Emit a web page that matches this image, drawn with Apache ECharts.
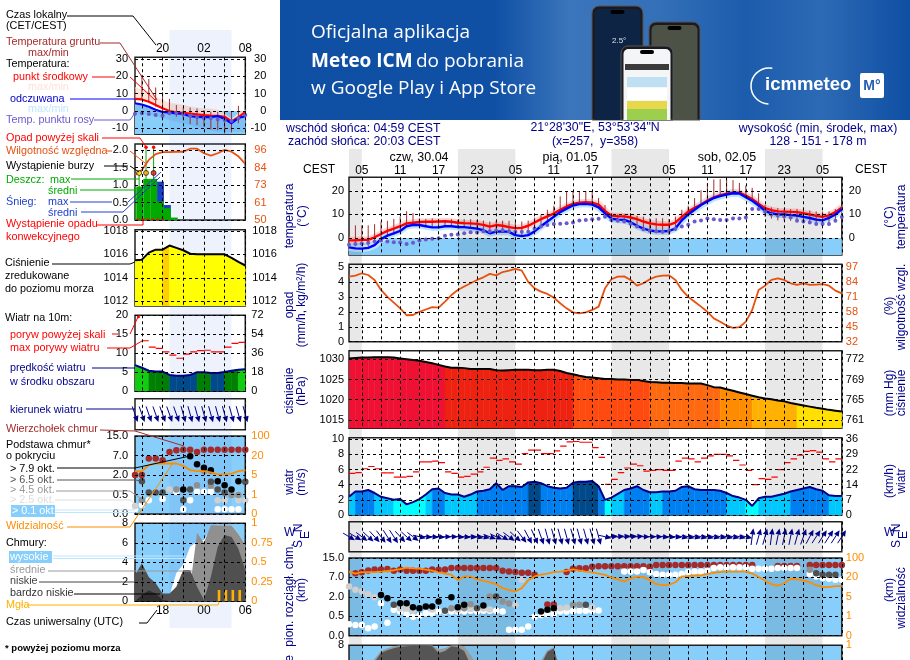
<!DOCTYPE html>
<html>
<head>
<meta charset="utf-8">
<title>Meteogram</title>
<script src="https://cdn.jsdelivr.net/npm/echarts@6/dist/echarts.min.js"></script>
<style>html,body{margin:0;padding:0;background:#fff}#main{width:910px;height:660px}</style>
</head>
<body>
<div id="main"></div>
<script>
// ---- main forecast: hourly values, t = hours since 30.04 00:00 local (t 3..80)
var hours = [];
for (var h = 3; h <= 80; h++) hours.push(h);

var tempMid = [-1,-1,-0.8,-0.8,0.3,1.7,3,4,5,6.2,
  6.5,6.8,6.9,6.9,7,7.1,6.9,6.5,6.3,6.2,
  6,5.6,4.8,5.5,5.2,4.6,4.2,4.3,5.2,6.6,
  8,9.2,10.4,12,13.4,14.5,15,15.2,15,14.2,
  11.5,9.5,9.2,9.2,8.7,8,7,6.2,5.8,5.6,
  5.6,6.5,9,11.2,12.8,14.2,15.9,17.3,18.2,18.8,
  19.4,19.3,18,16.6,14.6,12.7,11.8,11.3,11.2,11.1,
  11,10.5,10,9.4,9,9.6,11,13];
var tempFeels = [-4,-4.4,-4.5,-4.2,-3,-0.5,1,2,3,5,
  5.6,5.5,5,4.5,4.5,5,5,4.7,4.6,4.3,
  4,3.3,2,2.7,2.8,2.6,1.2,0.8,1.2,2.8,
  5,7,9,11,12.5,13.8,14.4,14.5,14.2,13,
  10.5,8.2,7.8,7.7,6.7,5.2,4,3.2,2.8,2.8,
  3,4,7.5,10,12,14,15.5,17,17.8,18.5,
  19,18.9,17.3,15.8,13.8,11.5,10.5,10,10,9.7,
  9.5,9,8.5,7.8,7.5,8.5,10,12.3];
var dewPoint = [-2.9,-2.6,-2.3,-2,-1.5,-1.1,-1.5,-1.8,-1.9,-2.6,
  -2,-1.1,-0.6,-0.3,-0.1,1,1.4,1.5,2,2.4,
  2.3,2.9,2.9,3.1,3.3,2.9,2.7,2.7,2.7,4,
  4.9,5.5,6,6.1,6.3,6.6,7.4,7.7,8,8.2,
  9,7.7,7.3,7,6.1,4.9,3.7,3.1,2.9,2.7,
  3,3.9,4.9,5.6,7,7.4,8.3,8,7.7,7.7,
  8.3,8.3,8.7,12.3,12.3,11.3,10,9.6,9.1,8.7,
  7.3,7,6.6,6,6,6,7.3,8.9];
var groundMax = [4.1,5.4,5.3,5.4,5.9,7,7.3,8.1,9.1,11.4,
  10.6,8.4,8.1,8.4,8.1,7.7,8,7.7,8,8,
  7.7,7.4,7,7.3,7.4,7.3,7,7,7.4,8.7,
  10,12,13.7,17.7,19.9,20,20,20,19.5,17,
  14,10,10.1,10.1,9.9,9.4,9.1,8.4,8.4,8.4,
  8.1,9.1,12,13.7,17,20.3,23.4,24.9,25,25,
  24.6,23.4,22.3,21.3,19,14,13,12.7,12.4,12.3,
  12.3,12,11.7,11.3,11.3,11.3,12.3,13];
var groundMin = [-3.5,-3.5,-3.5,-3.5,-2.5,-1,0.5,1.5,2.8,4.5,
  5,5,4.8,4.5,4.4,4.8,4.8,4.5,4.4,4.2,
  3.8,3,1.8,2.4,2.5,2.4,1,0.5,1,2.6,
  4.7,6.8,8.8,10.8,12.2,13.6,14.2,14.2,14,12.7,
  10.2,7.8,7.5,7.2,6,5,3.5,2.5,2,1.8,
  1.3,3,7,9.7,11.7,13.6,15.2,16.7,17.6,18.2,
  18.7,18.6,17,15.5,13.4,9,8.2,7.5,7.4,7.3,
  7,6.7,6.2,5.6,5.2,6,7.6,9.5];
var humidity = [88.6,89.5,91.5,90,85.7,77,71,66,61,55,
  55.2,58,60,62,61.6,66.8,72.6,77,80,82.8,
  85.7,88,91,89.7,92.6,93.8,95.3,93.8,84,78.4,
  75.5,73.5,70.3,65.4,61,57.5,56.7,57.5,59.6,62.5,
  78.4,86.3,88.6,88.8,85.7,80.7,82.8,86.3,88.6,89.4,
  89.7,85.7,77,71,66.8,62.5,58,52.3,49.4,46,
  44,44.6,49.4,59.6,77,80.7,85.7,87,85.7,82.8,
  81.4,82.8,81.4,81.7,82,80.7,76.4,74];
var pressure = [1030.2,1030.3,1030.4,1030.4,1030.5,1030.5,1030.5,1030.4,1030.2,1030,
  1029.8,1029.6,1029.3,1029,1028.6,1028.2,1027.9,1027.9,1027.8,1027.6,
  1027.6,1027.6,1027.6,1027.3,1027.2,1027.3,1027.4,1027.4,1027.4,1027.3,
  1027.3,1027.4,1027.4,1027.1,1026.6,1026.3,1025.9,1025.6,1025.5,1025.3,
  1025.1,1025.1,1025,1025,1024.9,1024.9,1024.6,1024.4,1024.3,1024.2,
  1024.2,1024.1,1024.1,1024,1024,1024,1023.6,1023.1,1023,1022.6,
  1022.2,1021.8,1021.4,1021,1020.6,1020.3,1020.1,1019.8,1019.6,1019.2,
  1018.9,1018.6,1018.3,1018,1017.8,1017.5,1017.3,1017.1];
var windSpeed = [2.4,3.1,3.1,3.3,2.9,2.4,2.2,2,2.1,1.4,
  1.7,2.1,2.7,3.4,3.5,2.9,2.7,2.7,2.4,2.7,
  3.1,3.2,3.4,4.2,3.3,3.8,3.8,3.7,4.3,4.4,
  4.2,3.8,3.6,3.5,3.6,4.25,4.4,4.4,4.5,3.8,
  2,2.3,2.8,3.3,3.5,3.8,3.3,3,3,3.1,
  3.1,3.2,3.7,3.8,3.4,3.3,3.3,3.3,3.2,2.9,
  2.5,2.3,2,1.2,2.2,2.4,2.4,2.6,2.8,3.1,
  3.3,3.5,3.7,3.4,3.2,2.6,2.5,2.5];
var windGust = [5.5,5.6,6.1,6.4,6.1,5.55,5.55,5,5,5.1,
  5.7,7,7,7.1,6.9,5.7,5.5,5,5.1,5.4,
  5.7,6.3,7.5,7.2,7.4,7,6.7,8.1,8.55,8.55,
  8.1,8.1,8.45,9.1,9.65,9.7,9.6,9.6,8.9,7.6,
  4.05,4.7,5.6,6.2,6.7,6.5,5.8,5.9,6,5.9,
  5.9,7.1,7.5,7.4,7,7.5,7.8,8,8,7.8,
  7.2,6.6,5.9,4,4.8,4.7,5,6,6.9,7.4,
  7.9,8.4,8.5,8.3,7.4,7,7.4,7.4];
var windDir = [295,295,300,305,310,315,320,320,310,305,
  300,280,275,275,275,270,270,275,275,275,
  280,280,285,290,295,300,305,315,325,330,
  335,340,340,340,340,340,340,340,340,340,
  280,265,265,265,265,265,270,270,270,275,
  275,275,280,280,280,280,280,280,280,280,
  280,280,280,190,200,200,190,195,195,195,
  200,205,215,220,220,220,220,220];
// visibility and cloud base are on the chart's stepped scale (one step per labelled tick)
var visibility = [3.3,3.2,3.27,3.27,3.27,3.3,3.33,3.37,3.43,3.5,
  3.47,3.45,3.4,3.35,3.26,3.2,3.14,2.86,3.05,3.05,
  2.9,2.83,2.75,2.65,2.45,2.35,2.28,2.45,2.85,3.05,
  3.14,3.2,3.27,3.3,3.35,3.42,3.35,3.3,3.26,3.2,
  3.13,3,2.9,2.8,2.95,3.03,3.03,2.85,2.65,2.6,
  2.62,2.75,3.05,3.07,3.1,3.1,3.18,3.24,3.28,3.3,
  3.3,3.3,3.3,3.2,3.03,2.83,2.65,2.57,2.7,2.93,
  2.9,2.85,2.75,2.6,2.5,2.5,2.55,2.55];

var cloudTop = [[4,3.22],[5,3.26],[6,3.36],[7,3.41],[8,3.41],[9,3.43],[10,3.34],[11,3.41],[12,3.34],[13,3.34],
  [14,3.34],[15,3.34],[16,3.41],[17,3.4],[18,3.41],[19,3.48],[20,3.48],[21,3.48],[22,3.48],[23,3.48],[24,3.48],
  [25,3.48],[26,3.48],[27,3.34],[28,3.31],[29,3.28],[30,3.24],[31,3.24],[32,3.14],[34,1.6],[35,1.6],[37,3.28],[38,3.45],
  [39,3.47],[40,3.47],[41,3.55],[42,3.57],[43,3.57],[44,3.57],[45,3.57],[46,3.57],[47,3.57],[48,3.57],[49,3.57],[50,3.55],
  [51,3.64],[52,3.64],[53,3.64],[54,3.64],[55,3.64],[56,3.64],[57,3.64],[58,3.64],[59,3.64],[60,3.64],[61,3.64],[62,3.64],
  [63,3.64],[64,3.64],[65,3.64],[66,3.64],[70,3.59],[71,3.59],[72,3.59],[73,3.59],[75,3.64],[76,3.64],[77,3.64],[78,3.64],[79,3.64],[80,3.64]];
var cloudWhite = [[3,0.59],[4,0.55],[5,0.55],[6,0.38],[7,0.47],[8,1.67],[9,0.67],[10,1.33],[11,1.24],[12,1.1],[13,0.98],[14,1.03],
  [15,1.15],[16,1.15],[17,1.24],[18,1.24],[19,1.24],[20,1.24],[21,1.24],[22,1.29],[23,1.24],[24,1.29],[25,1.29],[26,1.29],[27,1.24],
  [28,0.3],[29,0.3],[30,0.3],[31,0.47],[32,0.98],[33,1.07],[34,1.1],[35,1.12],[36,1.24],[37,1.24],[38,1.27],[39,1.29],[40,1.29],[41,1.29],[42,1.3],
  [46,3.31],[47,3.31],[48,3.31],[49,3.38],[50,3.26],[51,3.17],[52,3.14],[53,3.14],[54,3.14],[55,3.17],[56,3.28],[57,3.31],[58,3.31],[59,3.34],[60,3.48],
  [61,3.52],[62,3.52],[63,3.52],[64,3.52],[65,3.52],[66,3.45],[67,3.45],[68,3.45],[69,3.45],[70,3.48],[71,3.48],[72,3.48],[73,3.48],
  [75,3.17],[76,3.05],[77,2.97],[78,2.93],[79,2.88],[80,2.88]];
var cloudLight = [[3,2.53],[4,2.36],[5,2.28],[6,2.14],[7,1.98],[11,1.4],[12,1.4],[13,1.3],[16,1.35],[20,1.33],[22,1.38],[24,1.4],[25,1.35],[29,1.59],[30,2.88],[36,1.41],[37,1.45],[41,1.45]];
var cloudGray = [[19,1.41],[21,1.41],[22,1.62],[25,2.02],[27,1.76],[28,1.66],[38,1.59],[39,1.59],[75,3.4]];
var cloudDark = [[10,1.59],[18,1.29],[23,1.41],[26,2.02],[40,1.59],[76,3.22],[77,3.14],[78,3.14],[79,3.14]];
var cloudBlack = [[8,2.1],[9,1.93],[11,1.67],[12,1.67],[13,1.47],[14,1.41],[15,1.5],[16,1.5],[17,1.76],[19,1.98],[20,1.47],[21,1.59],[24,1.55],[33,1.24],[34,1.33],[35,1.41]];
// cloud cover (okta), the panel runs off the bottom of the page
var mainCloudLow = [3,3.5,4,5,6.3,7.2,7.5,7.7,7.86,7.9,8,8,8,7.9,7.2,7.4,7.9,7.8,7.4,6,4,3,2,2,2,2,2,2,3,5,6,7.3,7.7,5];
var mainCloudMid = [4,4.5,5,6,6.6,7.4,7.7,7.9,8,8,8,8,8,8,7.6,7.7,8,8,7.9,7,6,4,3,3,3,3,3,3,4,5.5,6.4,7.5,7.8,5.5];

var nightMain = [[3,5],[20,29],[44,53],[68,77]];
var gridHoursMain = [5,8,11,14,17,20,23,26,29,32,35,38,41,44,47,50,53,56,59,62,65,68,71,74,77,80];
var labelHoursMain = [5,11,17,23,29,35,41,47,53,59,65,71,77];

// ---- small "now" panels at left (t 16..32)
var nowHours = [16,17,18,19,20,21,22,23,24,25,26,27,28,29,30,31,32];
var nowTempMid = [7,6.7,5.4,3.5,1.6,0,-0.7,-1,-1.4,-1.9,-2.3,-2.6,-2.7,-3.3,-6,-3.6,-0.4];
var nowTempFeels = [4.5,3.8,2.5,0.8,-0.5,-0.9,-1.3,-1.7,-3,-3.3,-3.5,-3.5,-2.9,-4.5,-7,-4,-3];
var nowDew = [-1.5,-1.3,-1.7,-2.3,-2.7,-1.3,-1,-1.9,-2.7,-3.6,-4.2,-4.2,-4.8,-5.2,-5.8,-4.2,-2.3];
var nowGroundMax = [13,21,18.5,13.6,11,7,3.5,2,2,1.5,0.6,-0.4,-0.4,-0.4,-0.4,3,0];
var nowGroundMin = [6,6.3,5.4,2.5,0,-2.3,-3.3,-4.6,-7.5,-8,-9,-10.6,-11,-12.9,-12.3,-7,-1];
var nowMidRangeHi = [13.6,12.5,11.1,8.3,6.3,4.8,4,3.5,2.5,1.9,1.5,1.3,0.6,-1.3,-4.8,-1.3,0.6];
var nowFeelsRangeLo = [-1,-1.5,-2,-3,-4,-5,-6,-7,-8,-9,-10,-11,-12,-12,-12,-12,-12];
var nowHumidity = [79.7,83,89.6,93.4,94.7,94.7,95,95,97,97,94,92.5,94,96.2,95,92,87];
var nowPressure = [1015.5,1015.55,1016.15,1016.4,1016.4,1016.75,1016.55,1016.35,1016.05,1016,1016,1016,1016,1016,1015.7,1015.35,1015.05];
var nowWind = [6.9,6.2,5.4,5.2,5.2,4.3,4.1,4.1,4.3,5,5,4.8,4.8,5.1,5.4,5.7,5.8];
var nowGust = [[17,13.3],[18,11.6],[19,11.3],[20,10.4],[21,9.5],[22,8.7],[23,9.8],[24,10.4],[25,10.7],[26,10.8],[27,10.4],[28,10.4],[29,11.6],[30,12.6],[31,12.9]];
var nowGustOver = [[16.5,19.6]];
var nowDir = [335,335,335,335,335,335,335,340,340,340,340,340,340,340,340,340,340];
var nowRain = [[15.2,0.96],[16.2,0.96],[17.2,1.18],[18.2,1.18],[19.2,0.53],[20.2,0.34],[21.2,0.07]];
var nowSnow = [[19.2,1.1],[20.2,0.43]];
var nowRainMax = [[16.6,1.3],[17.6,2.06],[18.7,2.06]];
var nowRainOver = [[17.6,2.09],[18.7,2.09]];
var nowStorm = [[16.6,1.35],[17.6,1.35],[18.7,1.35]];
var nowConvective = [[16.2,0.02],[20.2,0.02]];
var nowVisibility = [2.2,2.2,2.5,2.59,2.59,2.59,2.59,2.47,2.25,2.2,2.2,2.13,2.03,2.03,2.07,2.2,2.25];
var nowCloudTop = [[16,2],[17,2],[18,2.84],[19,2.84],[20,2.76],[21,3.18],[22,3.27],[23,3.3],[24,3.3],[25,3.18],[26,3.3],[27,3.3],[28,3.3],[29,3.3],[30,3.3],[31,3.3],[32,3.3]];
var nowCloudWhite = [[16,0.24],[17,0.46],[18,0.71],[20,0.77],[22,1.14],[23,0.24],[24,0.71],[25,1.14],[26,1.14],[27,1.14],[28,0.24],[29,0.24],[30,0.24],[31,0.24]];
var nowCloudLight = [[16,0.41],[19,1.14],[21,1.26],[28,0.71],[29,0.71],[31,0.71],[32,0.71]];
var nowCloudGray = [[17,0.71],[22,1.26],[25,1.48],[26,2.2],[27,1.45],[30,0.97],[31,0.97]];
var nowCloudDark = [[17,1.68],[18,1.1],[19,1.1],[20,1.1],[23,0.71],[24,1.26],[27,1.65],[28,1.26],[29,1.1],[32,1.65]];
var nowCloudBlack = [[23,1.26],[24,2.96],[25,2.55],[26,2.37],[27,2.25],[28,1.68],[29,1.48],[30,1.26],[31,1.68]];
var nowHigh = [0,0,0,0,0,0.6,2.9,3.8,5.6,6.1,6.3,7.5,7.8,7.8,7.8,6.9,5.8];
var nowMiddle = [0,0,0,0,0,0,0,0.5,1.5,7,6,7.8,7.8,7.8,7.8,6.9,5.8];
var nowLow = [2.7,3.9,2.5,1.85,0.8,0.8,1.5,3.2,3.2,1.5,0.15,2.5,5.6,6.8,6.6,5.4,3.2];
var nowVeryLow = [0,0.65,1.1,0.8,0.15,0,0,0,0,0,0,0,0,0,0,0,0];
var nowFog = [[28,0.145],[29,0.145],[30,0.145],[31,0.145]];
var nightNow = [[21,30]];
var gridHoursNow = [17,20,23,26,29,32];
var labelHoursNow = [20,26,32];

// tick labels
var stepKm = ['0.0','0.5','2.0','7.0','15.0'];
var stepVis = ['0','1','5','20','100'];

var FONT = '"Liberation Sans", Arial, sans-serif';
var DARKBLUE = '#00008b', ORANGERED = '#e8500f', ORANGE = '#ff8c00', SKY = '#87cefa';
var DASH = [3,3];
var Z_ABOVE_NIGHT = 3.5; // filled areas cover the night band, sky and dots do not

var grids = [], xAxes = [], yAxes = [], series = [];

function panel(o) {
  var g = grids.length;
  grids.push({left:o.left, top:o.top, width:o.width, height:o.height, show:true, outerBoundsMode:'none',
    borderColor:'#222', borderWidth:1.5, backgroundColor:o.bg || 'transparent'});
  xAxes.push({gridIndex:g, type:'value', min:o.xMin, max:o.xMax, z:5, position:o.xLabelPos || 'bottom',
    axisLine:{show:false},
    axisTick:{show:false, customValues:o.xGrid},
    axisLabel:o.xLabels ? {show:true, customValues:o.xLabels, margin:o.xMargin, color:'#000', fontFamily:FONT, fontSize:12,
      formatter:o.xFormat} : {show:false},
    splitLine:{show:true, lineStyle:{color:'#000', width:1, type:DASH}}});
  var yl = yAxes.length;
  yAxes.push({gridIndex:g, type:'value', min:o.yMin, max:o.yMax, z:5, position:'left',
    axisLine:{show:false},
    axisTick:{show:false, customValues:o.yGrid || o.yTicks},
    axisLabel:{show:!!o.yTicks, customValues:o.yTicks, margin:o.yMargin, color:'#000', fontFamily:FONT, fontSize:11,
      formatter:o.yFormat || function (v) { return v; }},
    splitLine:{show:true, lineStyle:{color:'#000', width:1, type:DASH}}});
  var r = o.right || {min:o.yMin, max:o.yMax};
  yAxes.push({gridIndex:g, type:'value', min:r.min, max:r.max, z:5, position:'right',
    axisLine:{show:false},
    axisTick:{show:false},
    axisLabel:{show:!!r.ticks, customValues:r.ticks, margin:r.margin, color:r.color || '#000', fontFamily:FONT, fontSize:11,
      align:r.align || 'left',
      formatter:function (v) { return r.labels[r.ticks.indexOf(v)]; }},
    splitLine:{show:false}});
  return {x:g, y:yl, r:yl + 1, yMin:o.yMin, yMax:o.yMax, xMin:o.xMin, xMax:o.xMax};
}
function pairs(xs, ys) { return xs.map(function (x, i) { return [x, ys[i]]; }); }

function addLine(p, xs, ys, color, width, opt) {
  series.push(Object.assign({type:'line', xAxisIndex:p.x, yAxisIndex:p.y, data:pairs(xs, ys), showSymbol:false,
    lineStyle:{color:color, width:width}, silent:true, z:4, clip:true}, opt || {}));
}
function addDots(p, data, color, size, z) {
  series.push({type:'scatter', xAxisIndex:p.x, yAxisIndex:p.y, data:data, symbolSize:size,
    itemStyle:{color:color, opacity:1}, silent:true, z:z || 4, clip:true});
}
function addCustom(p, data, renderItem, z, clip, axis) {
  series.push({type:'custom', xAxisIndex:p.x, yAxisIndex:axis || p.y, data:data, renderItem:renderItem,
    silent:true, z:z || 2, clip:clip !== false});
}
// filled band between two curves
function addBand(p, xs, lo, hi, color, z) {
  var d = [];
  for (var i = 0; i < xs.length - 1; i++) d.push([xs[i], lo[i], hi[i], xs[i + 1], lo[i + 1], hi[i + 1]]);
  addCustom(p, d, function (params, api) {
    var a = api.coord([api.value(0), api.value(1)]), b = api.coord([api.value(0), api.value(2)]);
    var c = api.coord([api.value(3), api.value(5)]), e = api.coord([api.value(3), api.value(4)]);
    return {type:'polygon', shape:{points:[a, b, c, e]}, style:{fill:color, stroke:color, lineWidth:0.4}};
  }, z || 2);
}
// area down to the panel floor, each hour coloured by its value class
function addStepArea(p, xs, ys, thresholds, colors, useEnd) {
  var d = [];
  for (var i = 0; i < xs.length - 1; i++) {
    var k = 0, cls = useEnd ? ys[i + 1] : ys[i];
    while (k < thresholds.length && cls < thresholds[k]) k++;
    d.push([xs[i], ys[i], xs[i + 1], ys[i + 1], k]);
  }
  addCustom(p, d, function (params, api) {
    var a = api.coord([api.value(0), api.value(1)]), b = api.coord([api.value(2), api.value(3)]);
    var f0 = api.coord([api.value(0), p.yMin]), f1 = api.coord([api.value(2), p.yMin]);
    var col = colors[api.value(4)];
    return {type:'polygon', shape:{points:[a, b, f1, f0]}, style:{fill:col, stroke:col, lineWidth:0.5}};
  }, Z_ABOVE_NIGHT);
}
function addBelowZero(p) {
  addCustom(p, [[p.xMin, 0, p.xMax, p.yMin]], function (params, api) {
    var a = api.coord([api.value(0), api.value(1)]), b = api.coord([api.value(2), api.value(3)]);
    return {type:'rect', shape:{x:a[0], y:a[1], width:b[0] - a[0], height:b[1] - a[1]}, style:{fill:SKY}};
  }, 1);
}
function addRanges(p, xs, lo, hi, color, z) {
  var d = xs.map(function (x, i) { return [x, lo[i], hi[i]]; });
  addCustom(p, d, function (params, api) {
    var a = api.coord([api.value(0), api.value(1)]), b = api.coord([api.value(0), api.value(2)]);
    return {type:'line', shape:{x1:a[0], y1:a[1], x2:b[0], y2:b[1]}, style:{stroke:color, lineWidth:1}};
  }, z || 4);
}
function addDashes(p, data, color, len, start) {
  addCustom(p, data, function (params, api) {
    var a = api.coord([api.value(0) + (start || 0), api.value(1)]), b = api.coord([api.value(0) + (start || 0) + len, api.value(1)]);
    return {type:'line', shape:{x1:a[0], y1:a[1], x2:b[0], y2:b[1]}, style:{stroke:color, lineWidth:1.2}};
  }, 4);
}
function addBars(p, data, color, width, z) {
  addCustom(p, data, function (params, api) {
    var a = api.coord([api.value(0), api.value(1)]), b = api.coord([api.value(0) + width, p.yMin]);
    return {type:'rect', shape:{x:a[0], y:a[1], width:b[0] - a[0], height:b[1] - a[1]}, style:{fill:color}};
  }, z || Z_ABOVE_NIGHT);
}
function addArrows(p, xs, dirs) {
  addCustom(p, pairs(xs, dirs), function (params, api) {
    var c = api.coord([api.value(0), 0.5]);
    var az = (api.value(1) + 180) * Math.PI / 180;
    var sx = Math.sin(az), sy = -Math.cos(az);
    var tail = [c[0] - sx * 6.5, c[1] - sy * 8.5], head = [c[0] + sx * 6.5, c[1] + sy * 8.5];
    var len = Math.sqrt((head[0] - tail[0]) * (head[0] - tail[0]) + (head[1] - tail[1]) * (head[1] - tail[1]));
    var ux = (head[0] - tail[0]) / len, uy = (head[1] - tail[1]) / len;
    var bx = head[0] - ux * 6, by = head[1] - uy * 6;
    return {type:'group', children:[
      {type:'line', shape:{x1:tail[0], y1:tail[1], x2:bx, y2:by}, style:{stroke:DARKBLUE, lineWidth:1}},
      {type:'polygon', shape:{points:[head, [bx - uy * 2.8, by + ux * 2.8], [bx + uy * 2.8, by - ux * 2.8]]}, style:{fill:DARKBLUE}}
    ]};
  }, 4, false);
}
function addNight(p, data, color) {
  addCustom(p, data, function (params, api) {
    var a = api.coord([api.value(0), 1]), b = api.coord([api.value(1), 0]);
    return {type:'rect', shape:{x:a[0], y:a[1], width:b[0] - a[0], height:b[1] - a[1]}, style:{fill:color}};
  }, 3);
}
function cloudDots(p, top, white, light, gray, dark, black, size) {
  addDots(p, top, '#a52a2a', size, 4);
  addDots(p, white, '#ffffff', size, 4);
  addDots(p, light, '#d0d0d0', size, 4);
  addDots(p, gray, '#909090', size, 4);
  addDots(p, dark, '#505050', size, 4);
  addDots(p, black, '#000000', size, 4);
}
function hourLabel(v) { var h = v % 24; return (h < 10 ? '0' : '') + h; }

// ---- main column
var M = {left:349, width:492.8, xMin:3, xMax:80, xGrid:gridHoursMain, yMargin:5};
function mainPanel(o) { return panel(Object.assign({}, M, o)); }

var nightBandMain = panel({left:349, width:492.8, top:149, height:511, xMin:3, xMax:80, xGrid:[], yMin:0, yMax:1, yGrid:[]});
grids[nightBandMain.x].borderWidth = 0;
addNight(nightBandMain, nightMain, 'rgba(0,0,0,0.09)');

var pTemp = mainPanel({top:177.3, height:77.7, yMin:-7.23, yMax:25.8, yTicks:[0,10,20],
  xLabels:labelHoursMain, xLabelPos:'top', xMargin:1, xFormat:hourLabel,
  right:{min:-7.23, max:25.8, ticks:[0,10,20], labels:['0','10','20'], margin:7}});
addBelowZero(pTemp);
addLine(pTemp, hours, tempMid, '#ffd6d6', 7, {z:2});
addLine(pTemp, hours, tempFeels, '#bfe6ff', 7, {z:2});
addRanges(pTemp, hours, groundMin, groundMax, '#a03030', 4);
addLine(pTemp, hours, tempMid, '#ff0000', 2.4);
addLine(pTemp, hours, tempFeels, '#0000ff', 2.4);
addDots(pTemp, pairs(hours, dewPoint), '#6a5acd', 4);

var pHum = mainPanel({top:264.3, height:77.4, yMin:0, yMax:5.18, yTicks:[0,1,2,3,4,5],
  right:{min:32, max:99.3, ticks:[32,45,58,71,84,97], labels:['32','45','58','71','84','97'], margin:4, color:ORANGERED}});
series.push({type:'line', xAxisIndex:pHum.x, yAxisIndex:pHum.r, data:pairs(hours, humidity), showSymbol:false,
  lineStyle:{color:ORANGERED, width:1.8}, silent:true, z:4});

var pPress = mainPanel({top:350.7, height:77.6, yMin:1012.95, yMax:1032.1, yTicks:[1015,1020,1025,1030],
  right:{min:1012.95, max:1032.1, ticks:[1015,1020,1025,1030], labels:['761','765','769','772'], margin:4}});
addStepArea(pPress, hours, pressure, [1028.6,1026.5,1024.5,1023.05,1021.05,1018.95],
  ['#ee1133','#ee2210','#ff4a10','#ff6a10','#ff8c00','#ffb000','#ffe000']);
addLine(pPress, hours, pressure, '#000', 2);

var pWind = mainPanel({top:437.7, height:77.3, yMin:0, yMax:10.2, yTicks:[0,2,4,6,8,10],
  right:{min:0, max:10.2, ticks:[0,2,4,6,8,10], labels:['0','7','14','22','29','36'], margin:4}});
addStepArea(pWind, hours, windSpeed, [4.25,3.05,2.15], ['#004a8c','#0080f0','#00c8ff','#00ffff']);
addLine(pWind, hours, windSpeed, '#00008b', 2);
addDashes(pWind, pairs(hours, windGust), '#ff0000', 1);

var pDir = mainPanel({top:521.7, height:30, yMin:0, yMax:1, yGrid:[]});
addArrows(pDir, hours, windDir);

var pBase = mainPanel({top:558, height:77.7, yMin:0, yMax:4, yTicks:[0,1,2,3,4], bg:SKY,
  yFormat:function (v) { return stepKm[v]; },
  right:{min:0, max:4, ticks:[0,1,2,3,4], labels:stepVis, margin:4, color:ORANGE}});
cloudDots(pBase, cloudTop, cloudWhite, cloudLight, cloudGray, cloudDark, cloudBlack, 6.5);
addLine(pBase, hours, visibility, ORANGE, 1.8, {z:5});

var pCloud = mainPanel({top:645.3, height:77.6, yMin:0, yMax:8, yTicks:[8], yGrid:[2,4,6], bg:SKY,
  right:{min:0, max:8, ticks:[8], labels:['1'], margin:4, color:ORANGE}});
addLine(pCloud, hours.slice(0, mainCloudMid.length), mainCloudMid, '#999', 0, {areaStyle:{color:'#999', opacity:1, origin:'start'}, z:Z_ABOVE_NIGHT});
addLine(pCloud, hours.slice(0, mainCloudLow.length), mainCloudLow, '#555', 0, {areaStyle:{color:'#555', opacity:1, origin:'start'}, z:Z_ABOVE_NIGHT});

// ---- left column
var L = {left:135, width:110.3, xMin:16, xMax:32, xGrid:gridHoursNow, yMargin:7};
function nowPanel(o) { return panel(Object.assign({}, L, o)); }

var nightBandNow = panel({left:135, width:110.3, top:30, height:598, xMin:16, xMax:32, xGrid:[], yMin:0, yMax:1, yGrid:[]});
grids[nightBandNow.x].borderWidth = 0;
addNight(nightBandNow, nightNow, 'rgba(60,110,235,0.09)');

var qTemp = nowPanel({top:57.3, height:77, yMin:-13.4, yMax:31, yTicks:[-10,0,10,20,30],
  xLabels:labelHoursNow, xLabelPos:'top', xMargin:3, xFormat:hourLabel,
  right:{min:-13.4, max:31, ticks:[-10,0,10,20,30], labels:['-10','0','10','20','30'], margin:21, align:'right'}});
addBelowZero(qTemp);
addBand(qTemp, nowHours, nowTempMid, nowMidRangeHi, '#ffe3d8', 2);
addBand(qTemp, nowHours, nowFeelsRangeLo, nowTempFeels, '#7ec0f2', 2);
addRanges(qTemp, nowHours, nowGroundMin, nowGroundMax, '#a03030', 4);
addLine(qTemp, nowHours, nowTempMid, '#ff0000', 2.2);
addLine(qTemp, nowHours, nowTempFeels, '#0000ff', 2.2);
addDots(qTemp, pairs(nowHours, nowDew), '#6a5acd', 4);

var qPrecip = nowPanel({top:144, height:76, yMin:0, yMax:2.18, yTicks:[0,0.5,1,1.5,2],
  yFormat:function (v) { return v.toFixed(1); },
  right:{min:50, max:100.1, ticks:[50,61.5,73,84.5,96], labels:['50','61','73','84','96'], margin:9, color:ORANGERED}});
addBars(qPrecip, nowSnow, '#1a3fc4', 1);
addBars(qPrecip, nowRain, '#00aa00', 1);
addRanges(qPrecip, [nowRainMax[0][0], nowRainMax[1][0], nowRainMax[2][0]], [0.9, 1.1, 1.1], nowRainMax.map(function (d) { return d[1]; }), '#00aa00', 4);
addDots(qPrecip, nowRainOver, '#ff0000', 3.5);
series.push({type:'scatter', xAxisIndex:qPrecip.x, yAxisIndex:qPrecip.y, data:nowStorm, symbolSize:5, silent:true, z:5,
  itemStyle:{borderColor:'#000', borderWidth:0.8, color:function (p) { return ['#ffee00','#ffa500','#ee1111'][p.dataIndex]; }}});
series.push({type:'line', xAxisIndex:qPrecip.x, yAxisIndex:qPrecip.y, data:nowConvective, showSymbol:false, silent:true, z:5,
  lineStyle:{color:'#ff0000', width:1.2, type:[3,2]}});
series.push({type:'line', xAxisIndex:qPrecip.x, yAxisIndex:qPrecip.r, data:pairs(nowHours, nowHumidity), showSymbol:false,
  lineStyle:{color:ORANGERED, width:1.8}, silent:true, z:4});

var qPress = nowPanel({top:229.7, height:76.3, yMin:1011.6, yMax:1018.1, yTicks:[1012,1014,1016,1018],
  right:{min:1011.6, max:1018.1, ticks:[1012,1014,1016,1018], labels:['1012','1014','1016','1018'], margin:7}});
addStepArea(qPress, nowHours, nowPressure, [1016.7], ['#ffd000','#ffff00'], true);
addLine(qPress, nowHours, nowPressure, '#000', 2);

var qWind = nowPanel({top:315.3, height:76, yMin:0, yMax:20, yTicks:[0,5,10,15,20],
  right:{min:0, max:20, ticks:[0,5,10,15,20], labels:['0','18','36','54','72'], margin:6}});
addStepArea(qWind, nowHours, nowWind, [5.5,4.95], ['#11cc11','#008000','#004a8c']);
addLine(qWind, nowHours, nowWind, '#00008b', 2);
addDashes(qWind, nowGust, '#ff0000', 1);
addDots(qWind, nowGustOver, '#ff0000', 3);

var qDir = nowPanel({top:398.7, height:31, yMin:0, yMax:1, yGrid:[]});
addArrows(qDir, nowHours, nowDir);

var qBase = nowPanel({top:436, height:78, yMin:0, yMax:4, yTicks:[0,1,2,3,4], bg:SKY,
  yFormat:function (v) { return stepKm[v]; },
  right:{min:0, max:4, ticks:[0,1,2,3,4], labels:stepVis, margin:6, color:ORANGE}});
cloudDots(qBase, nowCloudTop, nowCloudWhite, nowCloudLight, nowCloudGray, nowCloudDark, nowCloudBlack, 6.5);
addLine(qBase, nowHours, nowVisibility, ORANGE, 1.8, {z:5});

var qCloud = nowPanel({top:523.3, height:78, yMin:0, yMax:8, yTicks:[0,2,4,6,8], bg:SKY,
  xLabels:labelHoursNow, xLabelPos:'bottom', xMargin:3,
  xFormat:function (v) { return hourLabel(v - 2); },
  right:{min:0, max:8, ticks:[0,2,4,6,8], labels:['0','0.25','0.5','0.75','1'], margin:6, color:ORANGE}});
function cloudLayer(ys, col) {
  addLine(qCloud, nowHours, ys, col, 0, {areaStyle:{color:col, opacity:1, origin:'start'}, z:Z_ABOVE_NIGHT});
}
cloudLayer(nowHigh, '#ffffff');
cloudLayer(nowMiddle, '#909090');
cloudLayer(nowLow, '#505050');
cloudLayer(nowVeryLow, '#2e2e2e');
addBars(qCloud, nowFog.map(function (d) { return [d[0], d[1] * 8]; }), '#ffb000', 0.38, 4);

// ---- annotations
var leftTexts = [
  [6,15,'Czas lokalny','#000'],[6,26,'(CET/CEST)','#000'],
  [6,42,'Temperatura gruntu','#a52a2a'],[28,53,'max/min','#a52a2a'],
  [6,64,'Temperatura:','#000'],[13,77,'punkt środkowy','#ff0000'],[28,87,'max/min','#ffe0d8'],
  [10,99,'odczuwana','#0000cc'],[28,109,'max/min','#bfe6ff'],[6,120,'Temp. punktu rosy','#6a5acd'],
  [6,138,'Opad powyżej skali','#ff0000'],[6,151,'Wilgotność względna',ORANGERED],[6,166,'Wystąpienie burzy','#000'],
  [6,180,'Deszcz:','#00aa00'],[50,180,'max','#00aa00'],[48,191,'średni','#00aa00'],
  [6,202,'Śnieg:','#2040d0'],[48,202,'max','#2040d0'],[48,213,'średni','#2040d0'],
  [6,224,'Wystąpienie opadu','#ff0000'],[6,237,'konwekcyjnego','#ff0000'],
  [5,263,'Ciśnienie','#000'],[5,276,'zredukowane','#000'],[5,289,'do poziomu morza','#000'],
  [5,318,'Wiatr na 10m:','#000'],[10,335,'poryw powyżej skali','#ff0000'],[10,348,'max porywy wiatru','#ff0000'],
  [10,368,'prędkość wiatru',DARKBLUE],[10,382,'w środku obszaru',DARKBLUE],[10,410,'kierunek wiatru',DARKBLUE],
  [6,429,'Wierzchołek chmur','#a52a2a'],[6,445,'Podstawa chmur*','#000'],[6,456,'o pokryciu','#000'],
  [10,469,'> 7.9 okt.','#000'],[10,480,'> 6.5 okt.','#555'],[10,490,'> 4.5 okt.','#999'],[10,500,'> 2.5 okt.','#ddd'],
  [6,526,'Widzialność',ORANGE],[6,543,'Chmury:','#000'],[10,570,'średnie','#999'],[10,581,'niskie','#444'],[10,593,'bardzo niskie','#333'],
  [6,605,'Mgła','#ffb000'],[6,622,'Czas uniwersalny (UTC)','#000']
];
var headerTexts = [
  [286,129,'wschód słońca: 04:59 CEST','left'],[288,142,'zachód słońca: 20:03 CEST','left'],
  [595,128,'21°28\'30"E, 53°53\'34"N','center'],[595,142,'(x=257,  y=358)','center'],
  [818,129,'wysokość (min, środek, max)','center'],[818,142,'128 - 151 - 178 m','center']
];
var dayTexts = [[419,158,'czw, 30.04'],[570,158,'pią, 01.05'],[727,158,'sob, 02.05']];
var rotatedTexts = [
  [290,216,'temperatura'],[303,216,'(°C)'],[290,305,'opad'],[302,305,'(mm/h, kg/m²/h)'],
  [290,391,'ciśnienie'],[302,391,'(hPa)'],[290,482,'wiatr'],[302,482,'(m/s)'],
  [290,595,'pion. rozciągł. chm.'],[302,590,'(km)'],
  [890,217,'(°C)'],[902,217,'temperatura'],[890,306,'(%)'],[902,307,'wilgotność wzgl.'],
  [890,393,'(mm Hg)'],[902,393,'ciśnienie'],[890,481,'(km/h)'],[902,481,'wiatr'],[890,590,'(km)'],[902,598,'widzialność']
];
var leaders = [
  ['#000',[[67,16],[133,16],[156,45]]],['#a52a2a',[[100,43],[120,43],[157,100]]],
  ['#ff0000',[[92,77],[115,77]]],['#ff0000',[[130,77],[155,100]]],['#0000ff',[[70,99],[135,99]]],
  ['#6a5acd',[[94,120],[130,120],[135,113]]],['#ff0000',[[102,138],[140,138],[146,147]]],
  [ORANGERED,[[106,151],[112,151]]],[ORANGERED,[[130,151],[145,163]]],['#000',[[104,166],[128,166]]],['#000',[[130,166],[139,172]]],
  ['#00aa00',[[71,179],[139,179]]],['#00aa00',[[80,190],[135,190]]],['#2040d0',[[70,202],[112,202]]],['#2040d0',[[128,202],[161,172]]],
  ['#2040d0',[[81,212],[123,212],[160,177]]],['#ff0000',[[97,225],[143,225],[143,220]]],
  ['#000',[[52,264],[130,264],[135,262]]],['#ff0000',[[112,334],[118,334]]],['#ff0000',[[130,334],[138,317]]],
  ['#ff0000',[[107,348],[130,348],[142,341]]],[DARKBLUE,[[92,368],[135,368]]],[DARKBLUE,[[86,409],[135,409]]],
  ['#a52a2a',[[100,430],[135,431],[184,446]]],['#000',[[57,468],[135,468],[190,456]]],['#555',[[57,480],[135,480],[143,481]]],
  ['#999',[[56,491],[130,491],[143,500]]],['#ddd',[[55,500],[130,500],[137,505]]],
  ['#bfe6ff',[[55,510],[135,510]]],['#bfe6ff',[[55,512.5],[135,512.5]]],
  [ORANGE,[[67,527],[130,527],[173,463]]],
  ['#bfe6ff',[[53,556],[185,556]]],['#bfe6ff',[[53,558.5],[185,558.5]]],
  ['#999',[[48,571],[192,571]]],['#444',[[39,582],[135,582]]],['#000',[[74,594],[160,594]]],
  ['#ffb000',[[27,605],[218,605],[219,602]]],['#000',[[139,623],[147,623],[157,610]]]
];

var g = [];
var LEFT_FONT = '10.8px ' + FONT;
function addText(x, y, text, fill, opt) {
  opt = opt || {};
  g.push({type:'text', x:x, y:y, rotation:opt.rotation || 0, z:20, silent:true,
    style:Object.assign({text:text, fill:fill, font:(opt.font || '12px ' + FONT), align:opt.align || 'left', verticalAlign:'middle'}, opt.style || {})});
}
leaders.forEach(function (l) {
  g.push({type:'polyline', z:19, silent:true, shape:{points:l[1]}, style:{stroke:l[0], lineWidth:1, fill:null}});
});
leftTexts.forEach(function (t) { addText(t[0], t[1], t[2], t[3], {font:LEFT_FONT}); });
g.push({type:'rect', z:19, silent:true, shape:{x:11, y:505, width:44, height:12}, style:{fill:SKY}});
g.push({type:'rect', z:19, silent:true, shape:{x:9, y:551, width:43, height:12}, style:{fill:SKY}});
addText(12, 511, '> 0.1 okt.', '#fff', {font:LEFT_FONT});
addText(10, 557, 'wysokie', '#fff', {font:LEFT_FONT});
addText(5, 648, '* powyżej poziomu morza', '#000', {font:'bold 9.5px ' + FONT});
headerTexts.forEach(function (t) { addText(t[0], t[1], t[2], DARKBLUE, {align:t[3], font:'12.3px ' + FONT}); });
dayTexts.forEach(function (t) { addText(t[0], t[1], t[2], '#000', {align:'center', font:'12.5px ' + FONT}); });
addText(303, 170, 'CEST', '#000');
addText(855, 170, 'CEST', '#000');
rotatedTexts.forEach(function (t) { addText(t[0], t[1], t[2], DARKBLUE, {align:'center', rotation:Math.PI / 2}); });
addText(290, 655, 'pokrycie', DARKBLUE, {align:'right', rotation:Math.PI / 2});
// compass marks beside the wind direction panels
[[284,299,306],[884,897,904]].forEach(function (c) {
  addText(c[0], 533, 'W', DARKBLUE, {font:'12px ' + FONT});
  addText(c[1], 544, 'S', DARKBLUE, {align:'center', rotation:Math.PI / 2, font:'12px ' + FONT});
  addText(c[1], 528, 'N', DARKBLUE, {align:'center', rotation:Math.PI / 2, font:'12px ' + FONT});
  addText(c[2], 535, 'E', DARKBLUE, {align:'center', rotation:Math.PI / 2, font:'12px ' + FONT});
});

// banner
g.push({type:'rect', z:1, silent:true, shape:{x:280, y:0, width:630, height:120},
  style:{fill:new echarts.graphic.LinearGradient(0, 0, 1, 0, [
    {offset:0, color:'#0f4fa3'},{offset:0.34, color:'#0f50a5'},{offset:0.46, color:'#3b75bb'},{offset:0.6, color:'#3470b7'},
    {offset:0.74, color:'#1c5cac'},{offset:0.86, color:'#2d6ab5'},{offset:1, color:'#0f4fa3'}])}});
var BANNER = '"Open Sans", "Noto Sans", sans-serif';
addText(311, 33, 'Oficjalna aplikacja', '#fff', {font:'19px ' + BANNER});
g.push({type:'text', x:311, y:62, z:20, silent:true, style:{text:'{b|Meteo ICM} {n|do pobrania}', verticalAlign:'middle', align:'left',
  rich:{b:{font:'bold 19px ' + BANNER, fill:'#fff'}, n:{font:'19px ' + BANNER, fill:'#fff'}}}});
addText(311, 89, 'w Google Play i App Store', '#fff', {font:'19px ' + BANNER});
function phone(x, y, w, h, screen) {
  g.push({type:'rect', z:2, silent:true, shape:{x:x, y:y, width:w, height:h, r:[7,7,0,0]}, style:{fill:'#1b1b1f', stroke:'#55555c', lineWidth:1}});
  g.push({type:'rect', z:2, silent:true, shape:{x:x + 2.5, y:y + 3, width:w - 5, height:h - 3, r:[5,5,0,0]}, style:{fill:screen}});
  g.push({type:'rect', z:2, silent:true, shape:{x:x + w / 2 - 7, y:y + 4, width:14, height:4, r:2}, style:{fill:'#000'}});
}
phone(592, 6, 51, 114, '#0d2444');
phone(649, 22, 51, 98, '#4d5247');
phone(621, 46, 52, 74, '#f4f5f6');
addText(612, 41, '2.5°', '#d8e4f0', {font:'8px ' + FONT});
[[625,64,44,6,'#3b3b3b'],[627,77,40,10,'#bfe0f2'],[627,88,40,12,'#ffffff'],[627,101,40,8,'#e6d84a'],[627,109,40,11,'#9ccf4d']].forEach(function (r) {
  g.push({type:'rect', z:3, silent:true, shape:{x:r[0], y:r[1], width:r[2], height:r[3]}, style:{fill:r[4]}});
});
g.push({type:'arc', z:3, silent:true, shape:{cx:769, cy:86, r:18, startAngle:1.6, endAngle:4.9, clockwise:true}, style:{stroke:'#fff', lineWidth:1.5, fill:null}});
addText(765, 85, 'icmmeteo', '#fff', {font:'bold 18.5px ' + FONT});
g.push({type:'rect', z:3, silent:true, shape:{x:860, y:73, width:24, height:25, r:2}, style:{fill:'#fff'}});
addText(872, 86, 'M°', '#2a5db0', {align:'center', font:'bold 14px ' + FONT});

var chart = echarts.init(document.getElementById('main'));
chart.setOption({
  animation:false,
  backgroundColor:'#fff',
  textStyle:{fontFamily:FONT},
  grid:grids, xAxis:xAxes, yAxis:yAxes, series:series, graphic:{elements:g}
});
</script>
</body>
</html>
